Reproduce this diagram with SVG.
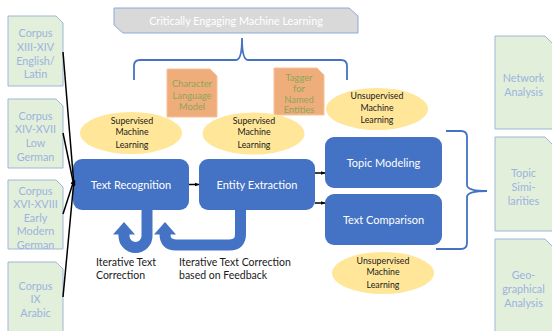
<svg xmlns="http://www.w3.org/2000/svg" width="552" height="331" viewBox="0 0 552 331">
  <defs>
    <marker id="ah" viewBox="0 0 10 10" refX="9" refY="5" markerWidth="5" markerHeight="5" orient="auto" markerUnits="userSpaceOnUse">
      <path d="M0,1 L10,5 L0,9 z" fill="#000"/>
    </marker>
    <style>
      text { font-family: Lato, "Open Sans", "Liberation Sans", sans-serif; text-anchor: middle; }
      .corpus { fill: #e2efda; stroke: #9fb6d6; stroke-width: 1; }
      .corpus-t { fill: #9cb3e0; font-size: 10.8px; }
      .out-t { fill: #9cb3e0; font-size: 10.8px; }
      .model { fill: #f0ad7c; stroke: #f5c29c; stroke-width: 1; }
      .model-t { fill: #8aa65a; font-size: 9.3px; }
      .ml { fill: #ffe699; }
      .ml-t { fill: #1a1a1a; font-size: 8.8px; }
      .step { fill: #4472c4; }
      .step-t { fill: #ffffff; font-size: 11px; }
      .brace { fill: none; stroke: #4472c4; stroke-width: 1.8; }
      .conn { stroke: #000; stroke-width: 1.5; fill: none; marker-end: url(#ah); }
      .loop { fill: none; stroke: #4472c4; stroke-width: 11; }
      .note { fill: #1a1a1a; font-size: 10.5px; text-anchor: start; }
    </style>
  </defs>

  <!-- header banner -->
  <g id="header">
    <path d="M114,8 H349 L358,16 V33 H123 L114,25 z" fill="#d9d9d9" stroke="#8ea9d6" stroke-width="1"/>
    <text x="236" y="24.5" fill="#ffffff" font-size="10.8px">Critically Engaging Machine Learning</text>
  </g>

  <!-- braces -->
  <g id="braces">
    <path class="brace" d="M134,80 V66 Q134,60 140,60 H236 Q242,60 242,38 Q242,60 248,60 H341 Q347,60 347,66 V80"/>
    <path class="brace" d="M446,131 H461 Q467,131 467,137 V185 Q467,191 487,191 Q467,191 467,197 V243 Q467,249 461,249 H436"/>
  </g>

  <!-- source corpora -->
  <g id="corpus-1">
    <path class="corpus" d="M8,16 H56 L63,23 V86 H8 z"/>
    <text class="corpus-t" x="35.5" y="37">Corpus</text>
    <text class="corpus-t" x="35.5" y="51">XIII-XIV</text>
    <text class="corpus-t" x="35.5" y="64.5">English/</text>
    <text class="corpus-t" x="35.5" y="78">Latin</text>
  </g>
  <g id="corpus-2">
    <path class="corpus" d="M8,99 H56 L63,106 V168 H8 z"/>
    <text class="corpus-t" x="35.5" y="119.5">Corpus</text>
    <text class="corpus-t" x="35.5" y="133">XIV-XVII</text>
    <text class="corpus-t" x="35.5" y="146.5">Low</text>
    <text class="corpus-t" x="35.5" y="160.5">German</text>
  </g>
  <g id="corpus-3">
    <path class="corpus" d="M8,180 H56 L63,187 V249 H8 z"/>
    <text class="corpus-t" x="35.5" y="194.5">Corpus</text>
    <text class="corpus-t" x="35.5" y="208">XVI-XVIII</text>
    <text class="corpus-t" x="35.5" y="221.5">Early</text>
    <text class="corpus-t" x="35.5" y="235">Modern</text>
    <text class="corpus-t" x="35.5" y="248.5">German</text>
  </g>
  <g id="corpus-4">
    <path class="corpus" d="M8,262 H56 L63,269 V336 H8 z"/>
    <text class="corpus-t" x="35.5" y="289.5">Corpus</text>
    <text class="corpus-t" x="35.5" y="303">IX</text>
    <text class="corpus-t" x="35.5" y="316.5">Arabic</text>
  </g>

  <!-- analysis outputs -->
  <g id="out-network">
    <path class="corpus" d="M495,36 H545 L556,47 V129 H495 z"/>
    <text class="out-t" x="523.5" y="82">Network</text>
    <text class="out-t" x="523.5" y="96">Analysis</text>
  </g>
  <g id="out-topic">
    <path class="corpus" d="M495,137 H545 L556,148 V231 H495 z"/>
    <text class="out-t" x="523.5" y="176.5">Topic</text>
    <text class="out-t" x="523.5" y="191">Simi-</text>
    <text class="out-t" x="523.5" y="205">larities</text>
  </g>
  <g id="out-geo">
    <path class="corpus" d="M495,239 H545 L556,250 V336 H495 z"/>
    <text class="out-t" x="523.5" y="278.5">Geo-</text>
    <text class="out-t" x="523.5" y="292.5">graphical</text>
    <text class="out-t" x="523.5" y="306.5">Analysis</text>
  </g>

  <!-- models -->
  <g id="model-char">
    <path class="model" d="M167,69 H210 L217,76 V117 H167 z"/>
    <text class="model-t" x="192" y="87">Character</text>
    <text class="model-t" x="192" y="99">Language</text>
    <text class="model-t" x="192" y="109.5">Model</text>
  </g>
  <g id="model-tagger">
    <path class="model" d="M274,68 H317 L324,75 V115 H274 z"/>
    <text class="model-t" x="299" y="81">Tagger</text>
    <text class="model-t" x="299" y="92">for</text>
    <text class="model-t" x="299" y="102.5">Named</text>
    <text class="model-t" x="299" y="113">Entities</text>
  </g>

  <!-- learning modes -->
  <g id="ml-1">
    <ellipse class="ml" cx="131" cy="133" rx="51" ry="21"/>
    <text class="ml-t" x="132" y="124">Supervised</text>
    <text class="ml-t" x="132" y="135">Machine</text>
    <text class="ml-t" x="132" y="148">Learning</text>
  </g>
  <g id="ml-2">
    <ellipse class="ml" cx="253.5" cy="133.5" rx="51" ry="21"/>
    <text class="ml-t" x="254" y="124">Supervised</text>
    <text class="ml-t" x="254" y="135">Machine</text>
    <text class="ml-t" x="254" y="148">Learning</text>
  </g>
  <g id="ml-3">
    <ellipse class="ml" cx="377" cy="109" rx="51" ry="21"/>
    <text class="ml-t" x="377" y="99">Unsupervised</text>
    <text class="ml-t" x="377" y="111">Machine</text>
    <text class="ml-t" x="377" y="123">Learning</text>
  </g>
  <g id="ml-4">
    <ellipse class="ml" cx="383" cy="273" rx="51" ry="21"/>
    <text class="ml-t" x="383" y="264">Unsupervised</text>
    <text class="ml-t" x="383" y="275">Machine</text>
    <text class="ml-t" x="383" y="288">Learning</text>
  </g>

  <!-- processing steps -->
  <g id="text-recognition">
    <rect class="step" x="73" y="159" width="116" height="51" rx="9"/>
    <text class="step-t" x="131" y="188.5">Text Recognition</text>
  </g>
  <g id="entity-extraction">
    <rect class="step" x="199" y="159" width="116" height="51" rx="9"/>
    <text class="step-t" x="257" y="188.5">Entity Extraction</text>
  </g>
  <g id="topic-modeling">
    <rect class="step" x="325" y="137" width="117" height="51" rx="9"/>
    <text class="step-t" x="383.5" y="166.5">Topic Modeling</text>
  </g>
  <g id="text-comparison">
    <rect class="step" x="325" y="194" width="117" height="51" rx="9"/>
    <text class="step-t" x="383.5" y="223.5">Text Comparison</text>
  </g>

  <!-- connectors -->
  <g id="connectors">
    <line class="conn" x1="63" y1="52" x2="74" y2="186"/>
    <line class="conn" x1="63" y1="133" x2="74" y2="186"/>
    <line class="conn" x1="63" y1="214" x2="74" y2="180"/>
    <line class="conn" x1="63" y1="297" x2="74" y2="180"/>
    <line class="conn" x1="189" y1="184.5" x2="199" y2="184.5"/>
    <line class="conn" x1="315" y1="173" x2="325" y2="173"/>
    <line class="conn" x1="315" y1="203" x2="325" y2="203"/>
    <!-- correction loops -->
    <path class="loop" d="M147,210 V236 A11.5,11.5 0 0 1 124,236 V233"/>
    <polygon points="124,222 113,234.5 135,234.5" fill="#4472c4"/>
    <path class="loop" d="M240.5,210 V234 Q240.5,245 229.5,245 H176 Q165,245 165,234 V233"/>
    <polygon points="165,222 154,234.5 176,234.5" fill="#4472c4"/>
  </g>

  <g id="notes">
    <text class="note" x="96" y="265.5">Iterative Text</text>
    <text class="note" x="96" y="278.5">Correction</text>
    <text class="note" x="179" y="265.5">Iterative Text Correction</text>
    <text class="note" x="179" y="278.5">based on Feedback</text>
  </g>
</svg>
